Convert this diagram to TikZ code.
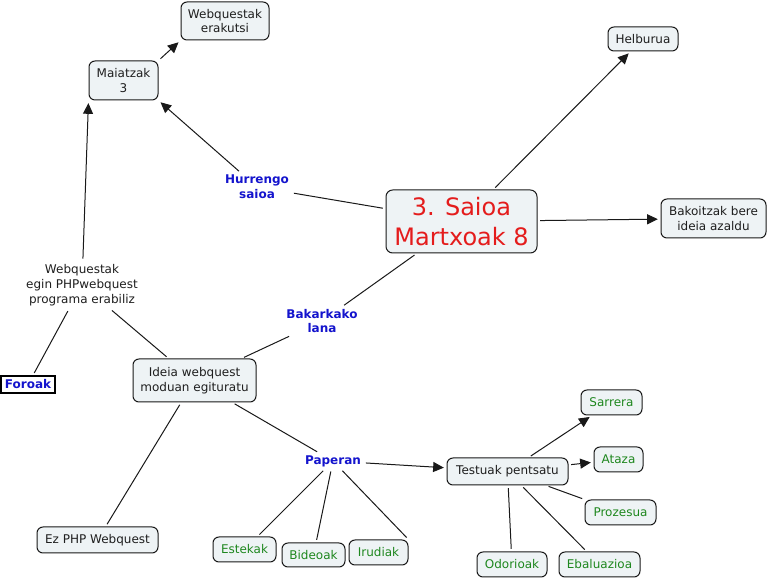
\documentclass[tikz,border=0pt]{standalone}
\usepackage{fontspec}
\setmainfont{DejaVu Sans}
\usetikzlibrary{arrows.meta}
\definecolor{nodefill}{RGB}{238,243,245}
\definecolor{edgecol}{RGB}{25,25,25}
\definecolor{lblue}{RGB}{20,20,205}
\definecolor{lgreen}{RGB}{30,135,30}
\definecolor{lred}{RGB}{228,28,28}
\definecolor{txt}{RGB}{30,30,30}
\begin{document}
\begin{tikzpicture}[x=0.75pt,y=-0.75pt,
 bx/.style={draw=edgecol, fill=nodefill, rounded corners=4.5pt, line width=0.75pt, inner sep=0pt, align=center, font=\fontsize{9}{11}\selectfont, text=txt},
 gbx/.style={bx, text=lgreen},
 lbl/.style={inner sep=1.5pt, align=center, font=\fontsize{9}{11}\selectfont\bfseries, text=lblue},
 ln/.style={draw=edgecol, line width=0.75pt, shorten <=2pt, shorten >=2pt},
 ar/.style={ln, -{Triangle[length=8pt,width=7.5pt]}}]
\useasboundingbox[fill=white] (0,0) rectangle (769,580);
% nodes
\node[bx, minimum width=66pt, minimum height=28.5pt] (wer) at (225,21) {Webquestak\\erakutsi};
\node[bx, minimum width=51.75pt, minimum height=29.25pt] (mai) at (123.5,80.5) {Maiatzak\\3};
\node[bx, minimum width=52.5pt, minimum height=18pt] (hel) at (643,39) {Helburua};
\node[bx, minimum width=113.25pt, minimum height=47.25pt, text=lred, font=\fontsize{18}{22.5}\selectfont, rounded corners=5pt] (main) at (461.5,221.5) {3. Saioa\\Martxoak 8};
\node[bx, minimum width=78.75pt, minimum height=29.25pt] (bak) at (713.5,218.5) {Bakoitzak bere\\ideia azaldu};
\node[lbl] (hur) at (257,187) {Hurrengo\\saioa};
\node[lbl] (bkl) at (322,321) {Bakarkako\\lana};
\node[inner sep=2pt, align=center, font=\fontsize{9}{11.25}\selectfont, text=txt] (weg) at (82,285) {Webquestak\\egin PHPwebquest\\programa erabiliz};
\node[draw=black, fill=white, line width=1pt, minimum width=40.5pt, minimum height=12.75pt, inner sep=0pt, font=\fontsize{9}{11}\selectfont\bfseries, text=lblue] (for) at (28,384.5) {Foroak};
\node[bx, minimum width=92.25pt, minimum height=32.25pt] (ide) at (194.5,380.5) {Ideia webquest\\moduan egituratu};
\node[lbl] (pap) at (333,461) {Paperan};
\node[bx, minimum width=90.75pt, minimum height=20.25pt] (tes) at (507.5,471.5) {Testuak pentsatu};
\node[gbx, minimum width=45.75pt, minimum height=18.75pt] (sar) at (611.5,402.5) {Sarrera};
\node[gbx, minimum width=36.75pt, minimum height=18.75pt] (ata) at (618.5,459.5) {Ataza};
\node[gbx, minimum width=53.25pt, minimum height=18.75pt] (pro) at (620.5,512.5) {Prozesua};
\node[gbx, minimum width=52.5pt, minimum height=18.75pt] (odo) at (512,564.5) {Odorioak};
\node[gbx, minimum width=60.75pt, minimum height=18.75pt] (eba) at (599.5,564.5) {Ebaluazioa};
\node[gbx, minimum width=47.25pt, minimum height=18.75pt] (est) at (244.5,549.5) {Estekak};
\node[gbx, minimum width=47.25pt, minimum height=18pt] (bid) at (313.5,555) {Bideoak};
\node[gbx, minimum width=44.25pt, minimum height=18.75pt] (iru) at (378.5,552.5) {Irudiak};
\node[bx, minimum width=90.75pt, minimum height=19.5pt] (ez) at (97.5,540) {Ez PHP Webquest};
% connectors
\draw[ar] (mai.north east) -- (wer.south west);
\draw[ln] (main) -- (hur);
\draw[ar] (hur) -- (mai.south east);
\draw[ar] (main) -- (hel);
\draw[ar] (main) -- (bak);
\draw[ln] (main) -- (bkl);
\draw[ln] (bkl) -- (ide);
\draw[ln] (ide) -- (weg);
\draw[ar] (weg) -- (mai.south west);
\draw[ln] (weg) -- (for);
\draw[ln] (ide) -- (ez);
\draw[ln] (ide) -- (pap);
\draw[ar] (pap) -- (tes);
\draw[ln] (pap) -- (est);
\draw[ln] (pap) -- (bid);
\draw[ln] (pap) -- (iru.north east);
\draw[ar] (tes) -- (sar);
\draw[ar] (tes) -- (ata);
\draw[ln] (tes) -- (pro);
\draw[ln] (tes) -- (eba);
\draw[ln] (tes) -- (odo);
\end{tikzpicture}
\end{document}
